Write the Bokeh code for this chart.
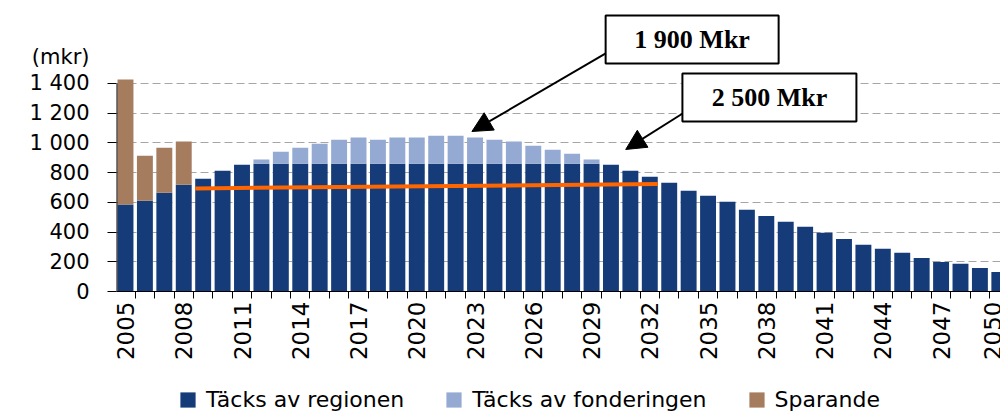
import math
from bokeh.plotting import figure
from bokeh.layouts import column
from bokeh.models import (Range1d, FixedTicker, Legend, LegendItem, Arrow,
                          NormalHead, ColumnDataSource)
from bokeh.core.properties import value
from bokeh.embed import file_html
from bokeh.resources import INLINE

# ---------------- data ----------------
years = list(range(2005, 2051))
regionen = [585, 610, 664, 718, 759, 813, 853,
            860, 860, 860, 860, 860, 860, 860, 860, 860,
            860, 860, 860, 860, 860, 860, 860, 860, 860,
            853, 813, 772, 732, 678, 644, 604, 550, 509, 469, 435,
            395, 354, 314, 287, 260, 226, 199, 186, 159, 132]
fonderingen = [0, 0, 0, 0, 0, 0, 0,
               28, 81, 108, 135, 162, 176, 162, 176, 176,
               189, 189, 176, 162, 149, 121, 94, 67, 28,
               0, 0, 0, 0, 0, 0, 0, 0, 0, 0, 0,
               0, 0, 0, 0, 0, 0, 0, 0, 0, 0]
sparande = [842, 304, 304, 291, 0, 0, 0,
            0, 0, 0, 0, 0, 0, 0, 0, 0,
            0, 0, 0, 0, 0, 0, 0, 0, 0,
            0, 0, 0, 0, 0, 0, 0, 0, 0, 0, 0,
            0, 0, 0, 0, 0, 0, 0, 0, 0, 0]
series_names = ["Täcks av regionen", "Täcks av fonderingen", "Sparande"]
series_colors = ["#153b79", "#95aad3", "#a67c5f"]
trend_years = [2009, 2032]
trend_values = [694, 723]
x_tick_years = list(range(2005, 2051, 3))
y_ticks = [0, 200, 400, 600, 800, 1000, 1200, 1400]
callouts = ["1 900 Mkr", "2 500 Mkr"]
unit_label = "(mkr)"
unit_label_pos = 1575  # height on the value axis where the unit caption sits

src = ColumnDataSource(dict(year=years, reg=regionen, fond=fonderingen, spar=sparande))

X0 = 2004.537
p = figure(width=1000, height=372,
           x_range=Range1d(X0, 2050.06), y_range=Range1d(0, 1958.6),
           output_backend="svg", toolbar_location=None,
           min_border_left=116, min_border_right=0, min_border_top=0,
           min_border_bottom=81)
p.outline_line_color = None
p.background_fill_color = "white"
p.border_fill_color = "white"

# axes / grid
p.xgrid.visible = False
p.ygrid.ticker = FixedTicker(ticks=y_ticks[1:])
p.ygrid.grid_line_color = "#a6a6a6"
p.ygrid.grid_line_dash = "8 4"
p.ygrid.grid_line_width = 1

renderers = p.vbar_stack(["reg", "fond", "spar"], x="year", width=0.82,
                         fill_color=series_colors, line_color=None, source=src)

# value axis line only up to the top tick
p.line([X0, X0], [y_ticks[0], y_ticks[-1]], line_color="black", line_width=2)

# trend line across bar edges
p.line([trend_years[0] - 0.41, trend_years[1] + 0.41], trend_values,
       line_color="#ff6600", line_width=4)

labels = {v: f"{v:,}".replace(",", " ") for v in y_ticks}
labels[unit_label_pos] = unit_label
p.yaxis.ticker = FixedTicker(ticks=y_ticks + [unit_label_pos], minor_ticks=y_ticks)
p.yaxis.major_label_overrides = labels
p.yaxis.major_label_text_font = "DejaVu Sans"
p.yaxis.major_label_text_font_size = "21px"
p.yaxis.major_label_text_color = "black"
p.yaxis.major_tick_out = 9
p.yaxis.major_tick_in = 0
p.yaxis.major_tick_line_color = None
p.yaxis.minor_tick_out = 9
p.yaxis.minor_tick_in = 0
p.yaxis.minor_tick_line_color = "black"
p.yaxis.major_label_standoff = 18
p.yaxis.axis_line_color = None

p.xaxis.ticker = FixedTicker(ticks=x_tick_years,
                             minor_ticks=[y - 0.5 for y in years] + [years[-1] + 0.5])
p.xaxis.major_label_orientation = math.pi / 2
p.xaxis.major_label_text_font = "DejaVu Sans"
p.xaxis.major_label_text_font_size = "23px"
p.xaxis.major_label_text_color = "black"
p.xaxis.major_tick_line_color = None
p.xaxis.major_tick_out = 7
p.xaxis.major_tick_in = 0
p.xaxis.minor_tick_out = 7
p.xaxis.minor_tick_in = 0
p.xaxis.minor_tick_line_color = "black"
p.xaxis.major_label_standoff = 3
p.xaxis.axis_line_color = "black"

# callout boxes
box_x = [2034.18, 2038.16]
box_y = [1696, 1306]
p.rect(x=box_x, y=box_y, width=[173, 174], height=[48, 48], width_units="screen",
       height_units="screen", fill_color="white", line_color="black", line_width=2)
p.text(x=box_x, y=box_y, text=callouts, text_align="center", text_baseline="middle",
       text_font=value("Liberation Serif"), text_font_style="bold",
       text_font_size="26px", text_color="black")

# arrows
for xs, ys, xe, ye in [(2029.73, 1602, 2022.84, 1077), (2033.69, 1198, 2030.76, 956)]:
    p.add_layout(Arrow(end=NormalHead(size=20, fill_color="black", line_color="black"),
                       x_start=xs, y_start=ys, x_end=xe, y_end=ye,
                       line_color="black", line_width=2))

# legend strip below the chart (frame aligned with the chart frame)
lg = figure(width=1000, height=40, x_range=Range1d(0, 1), y_range=Range1d(0, 1),
            output_backend="svg", toolbar_location=None,
            x_axis_type=None, y_axis_type=None,
            min_border_left=116, min_border_right=0, min_border_top=0, min_border_bottom=0)
lg.outline_line_color = None
lg.xgrid.visible = False
lg.ygrid.visible = False
dummy = [lg.vbar(x=[5], top=[1], width=0.5, fill_color=c, line_color=None)
         for c in series_colors]
legend = Legend(items=[LegendItem(label=n, renderers=[r]) for n, r in zip(series_names, dummy)],
                orientation="horizontal", location=(62, 0),
                border_line_color=None, background_fill_alpha=0,
                label_text_font="DejaVu Sans", label_text_font_size="22px",
                label_text_color="black",
                glyph_width=19, glyph_height=19, spacing=40, label_standoff=9,
                padding=0, margin=0)
lg.add_layout(legend, "center")

layout = column(p, lg, spacing=0)
open("out.html", "w").write(file_html(layout, INLINE))
